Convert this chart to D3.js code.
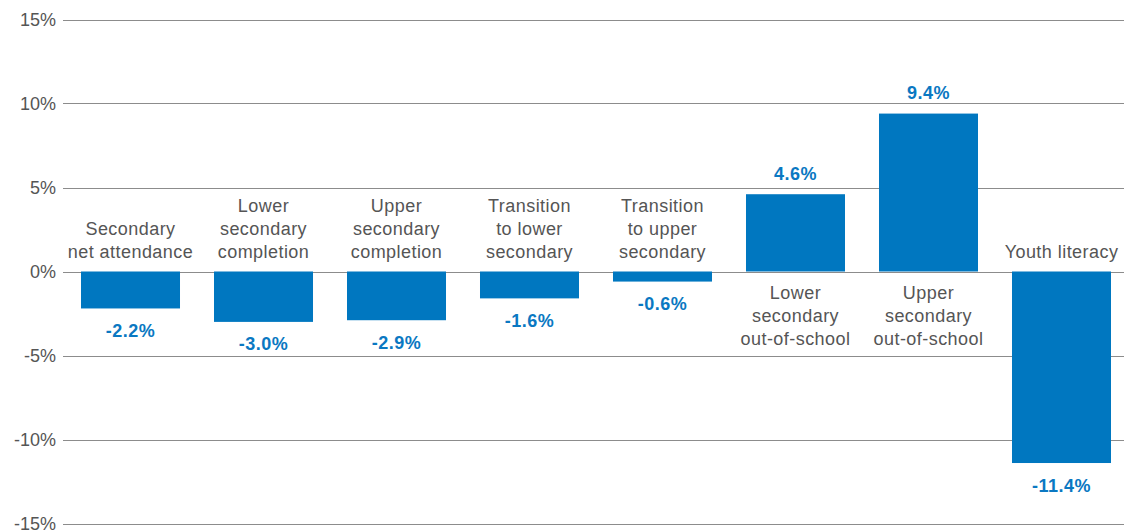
<!DOCTYPE html>
<html>
<head>
<meta charset="utf-8">
<script src="https://cdn.jsdelivr.net/npm/d3@7"></script>
<style>
  body { margin: 0; background: #fff; }
  svg { display: block; font-family: "Liberation Sans", Arial, sans-serif; }
  .grid line { stroke: #8c8c8c; stroke-width: 1; shape-rendering: crispEdges; }
  .tick-label { fill: #555; font-size: 18px; }
  .cat-label { fill: #555; font-size: 18px; letter-spacing: 0.45px; }
  .val-label { fill: #0a78c2; font-size: 18px; font-weight: bold; letter-spacing: 0.5px; }
  .bar { fill: #0077c0; }
</style>
</head>
<body>
<script>
const categories = [
  ["Secondary", "net attendance"],
  ["Lower", "secondary", "completion"],
  ["Upper", "secondary", "completion"],
  ["Transition", "to lower", "secondary"],
  ["Transition", "to upper", "secondary"],
  ["Lower", "secondary", "out-of-school"],
  ["Upper", "secondary", "out-of-school"],
  ["Youth literacy"]
];
const values = [-2.2, -3.0, -2.9, -1.6, -0.6, 4.6, 9.4, -11.4];
const yTicks = [15, 10, 5, 0, -5, -10, -15];

const width = 1124, height = 532;
const svg = d3.select("body").append("svg")
  .attr("width", width).attr("height", height);

const y = d3.scaleLinear().domain([-15, 15]).range([523.5, 19.5]);
const x = d3.scaleBand().domain(d3.range(values.length))
  .range([81, 1111]).paddingInner(0.2556).paddingOuter(0);

// gridlines
svg.append("g").attr("class", "grid")
  .selectAll("line").data(yTicks).enter().append("line")
  .attr("x1", 63).attr("x2", width)
  .attr("y1", d => Math.round(y(d)) + 0.5)
  .attr("y2", d => Math.round(y(d)) + 0.5);

svg.append("g").selectAll("text").data(yTicks).enter().append("text")
  .attr("class", "tick-label")
  .attr("x", 56)
  .attr("y", d => y(d))
  .attr("dy", "0.36em")
  .attr("text-anchor", "end")
  .text(d => d + "%");

// bars
svg.append("g").selectAll("rect").data(values).enter().append("rect")
  .attr("class", "bar")
  .attr("x", (d, i) => x(i))
  .attr("width", x.bandwidth())
  .attr("y", d => y(Math.max(0, d)))
  .attr("height", d => Math.abs(y(d) - y(0)));

// value labels
svg.append("g").selectAll("text").data(values).enter().append("text")
  .attr("class", "val-label")
  .attr("x", (d, i) => x(i) + x.bandwidth() / 2)
  .attr("y", d => d >= 0 ? y(d) - 21 : y(d) + 22)
  .attr("dy", "0.36em")
  .attr("text-anchor", "middle")
  .text(d => d.toFixed(1) + "%");

// category labels
const lineH = 23;
const cat = svg.append("g").selectAll("text").data(categories).enter().append("text")
  .attr("class", "cat-label")
  .attr("text-anchor", "middle")
  .attr("x", (d, i) => x(i) + x.bandwidth() / 2);

cat.each(function(lines, i) {
  const neg = values[i] < 0;
  const startY = neg ? y(0) - 20 - (lines.length - 1) * lineH : y(0) + 21;
  d3.select(this).selectAll("tspan").data(lines).enter().append("tspan")
    .attr("x", x(i) + x.bandwidth() / 2)
    .attr("y", (l, j) => startY + j * lineH)
    .attr("dy", "0.36em")
    .text(l => l);
});
</script>
</body>
</html>
